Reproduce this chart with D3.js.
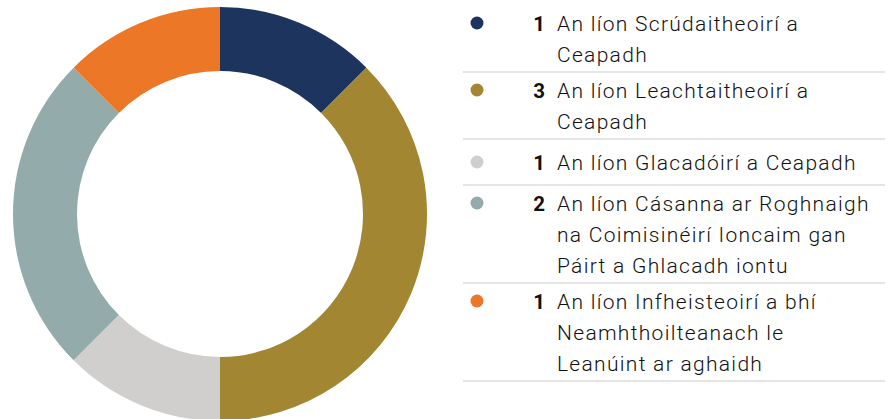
<!DOCTYPE html>
<html>
<head>
<meta charset="utf-8">
<script src="https://cdn.jsdelivr.net/npm/d3@7"></script>
<style>
  body { margin: 0; background: #fff; }
  svg { display: block; }
  text { font-family: Roboto, "Liberation Sans", Arial, sans-serif; }
</style>
</head>
<body>
<div id="chart"></div>
<script>
// data
var counts = [1, 3, 1, 2, 1];
var labels = [
  "An líon Scrúdaitheoirí a\nCeapadh",
  "An líon Leachtaitheoirí a\nCeapadh",
  "An líon Glacadóirí a Ceapadh",
  "An líon Cásanna ar Roghnaigh\nna Coimisinéirí Ioncaim gan\nPáirt a Ghlacadh iontu",
  "An líon Infheisteoirí a bhí\nNeamhthoilteanach le\nLeanúint ar aghaidh"
];
var colors = ["#1d355e", "#a28631", "#d0cfcd", "#94abab", "#ec7726"];

var width = 894, height = 419;

var svg = d3.select("#chart")
  .append("svg")
  .attr("width", width)
  .attr("height", height);

// donut
var cx = 220, cy = 214, outerR = 207, innerR = 143;

var pie = d3.pie().sort(null).value(function(d) { return d; });
var arc = d3.arc().innerRadius(innerR).outerRadius(outerR);

svg.append("g")
  .attr("transform", "translate(" + cx + "," + cy + ")")
  .selectAll("path")
  .data(pie(counts))
  .enter()
  .append("path")
  .attr("d", arc)
  .attr("fill", function(d, i) { return colors[i]; });

// legend
var lineH = 31;
var rows = [];
var rowY = 5;
for (var i = 0; i < counts.length; i++) {
  var lines = labels[i].split("\n");
  var h = Math.max(46, lineH * lines.length + 5);
  rows.push({ y: rowY, h: h, lines: lines, count: counts[i], color: colors[i] });
  rowY += h;
}

var leg = svg.append("g");

var row = leg.selectAll("g.row")
  .data(rows)
  .enter()
  .append("g")
  .attr("class", "row")
  .attr("transform", function(d) { return "translate(0," + d.y + ")"; });

row.each(function(d) {
  d.base = (d.h - lineH * d.lines.length) / 2 + 23;
});

row.append("circle")
  .attr("cx", 477)
  .attr("cy", function(d) { return d.base - 7.5; })
  .attr("r", 6.5)
  .attr("fill", function(d) { return d.color; });

row.append("text")
  .attr("x", 545)
  .attr("y", function(d) { return d.base; })
  .attr("text-anchor", "end")
  .attr("font-size", 20.5)
  .attr("font-weight", "bold")
  .attr("fill", "#111")
  .text(function(d) { return d.count; });

row.append("text")
  .attr("x", 557)
  .attr("font-size", 21)
  .attr("font-weight", 300)
  .attr("letter-spacing", 1.3)
  .attr("fill", "#111")
  .selectAll("tspan")
  .data(function(d) { return d.lines.map(function(l, k) { return { t: l, y: d.base + k * lineH }; }); })
  .enter()
  .append("tspan")
  .attr("x", 557)
  .attr("y", function(d) { return d.y; })
  .text(function(d) { return d.t; });

row.append("line")
  .attr("x1", 463)
  .attr("x2", 885)
  .attr("y1", function(d) { return d.h; })
  .attr("y2", function(d) { return d.h; })
  .attr("stroke", "#dcdcdc")
  .attr("stroke-width", 1.5);
</script>
</body>
</html>
